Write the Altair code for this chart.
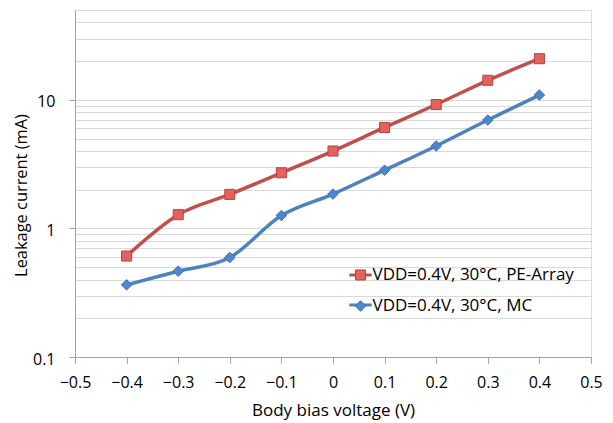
import altair as alt
import pandas as pd

# ---- data ----
bias_v = [-0.4, -0.3, -0.2, -0.1, 0.0, 0.1, 0.2, 0.3, 0.4]
pe_array_ma = [0.61, 1.28, 1.84, 2.71, 4.0, 6.1, 9.2, 14.2, 20.9]
mc_ma = [0.364, 0.465, 0.594, 1.26, 1.85, 2.84, 4.38, 6.97, 10.9]
series_names = ["VDD=0.4V, 30°C, PE-Array", "VDD=0.4V, 30°C, MC"]

x_ticks = [-0.5, -0.4, -0.3, -0.2, -0.1, 0.0, 0.1, 0.2, 0.3, 0.4, 0.5]
y_major = [0.1, 1, 10]
y_grid = [0.2, 0.3, 0.4, 0.5, 0.6, 0.7, 0.8, 0.9,
          1, 2, 3, 4, 5, 6, 7, 8, 9,
          10, 20, 30, 40, 50]

line_colors = ["#C0504D", "#4F81BD"]
fill_colors = ["#E3625E", "#4D87D4"]
edge_colors = ["#B8433F", "#3D71B3"]
marker_paths = ["M-0.45,-0.45H0.45V0.45H-0.45Z",
                "M0,-0.47L0.47,0L0,0.47L-0.47,0Z"]

rows = []
for name, vals in zip(series_names, [pe_array_ma, mc_ma]):
    for xv, yv in zip(bias_v, vals):
        rows.append({"x": xv, "y": yv, "series": name, "series_l": name})
df = pd.DataFrame(rows)

FONT = "Open Sans"
LX, LY = 272.5, 252

x_enc = alt.X("x:Q",
              scale=alt.Scale(domain=[-0.5, 0.5], nice=False, zero=False),
              axis=alt.Axis(values=x_ticks, grid=False, tickSize=6,
                            format=".1~f", labelFlush=False,
                            labelPadding=11, labelFontSize=16, labelColor="#000",
                            domainColor="#A0A0A0", tickColor="#A0A0A0",
                            title="Body bias voltage (V)", titleFontSize=17,
                            titleFontWeight="normal", titleColor="#000",
                            titlePadding=12))

y_scale = alt.Scale(type="log", domain=[0.1, 50], nice=False)

line_legend = alt.Legend(orient="none", legendX=LX, legendY=LY, title=None,
                         symbolSize=500, symbolStrokeWidth=3, padding=0,
                         rowPadding=9, labelFontSize=17, labelOpacity=0,
                         labelFont=FONT, labelLimit=400)
pt_legend = alt.Legend(orient="none", legendX=LX + 1, legendY=LY + 1, title=None,
                       symbolSize=500, symbolStrokeWidth=1, padding=0,
                       rowPadding=11, labelFontSize=17, labelColor="#000",
                       labelFont=FONT, labelOffset=0, labelLimit=400)

lines = alt.Chart(df).mark_line(interpolate="cardinal", strokeWidth=3.5).encode(
    x=x_enc,
    y=alt.Y("y:Q", scale=y_scale,
            axis=alt.Axis(orient="left", values=y_major, grid=False, ticks=True,
                          tickSize=6, format="~g", labelFlush=False,
                          labelPadding=14, labelOffset=2, labelFontSize=16,
                          labelColor="#000", domainColor="#A0A0A0",
                          tickColor="#A0A0A0", title="Leakage current (mA)",
                          titleFontSize=16.4, titleFontWeight="normal",
                          titleColor="#000", titleX=-53.5, titleY=185,
                          titleBaseline="middle", titleAngle=270)),
    color=alt.Color("series_l:N", sort=series_names,
                    scale=alt.Scale(range=line_colors), legend=line_legend),
)

points = alt.Chart(df).mark_point(filled=True, size=500, strokeWidth=1, opacity=1).encode(
    x=x_enc,
    y=alt.Y("y:Q", scale=y_scale,
            axis=alt.Axis(orient="left", values=y_grid, grid=True, labels=False,
                          ticks=False, domain=False, title=None,
                          gridColor="#D9D9D9", gridWidth=1)),
    fill=alt.Fill("series:N", scale=alt.Scale(domain=series_names, range=fill_colors),
                  legend=pt_legend),
    stroke=alt.Stroke("series:N", scale=alt.Scale(domain=series_names, range=edge_colors),
                      legend=pt_legend),
    shape=alt.Shape("series:N", scale=alt.Scale(domain=series_names, range=marker_paths),
                    legend=pt_legend),
)

chart = (
    alt.layer(lines, points)
    .resolve_scale(y="shared")
    .resolve_axis(y="independent")
    .properties(width=516, height=347, background="white",
                autosize=alt.AutoSizeParams(type="none"),
                padding={"left": 75, "top": 10, "right": 22, "bottom": 66})
    .configure_view(stroke=None)
    .configure(font=FONT)
)

chart.save("out.html", embed_options={"renderer": "svg", "actions": False})
